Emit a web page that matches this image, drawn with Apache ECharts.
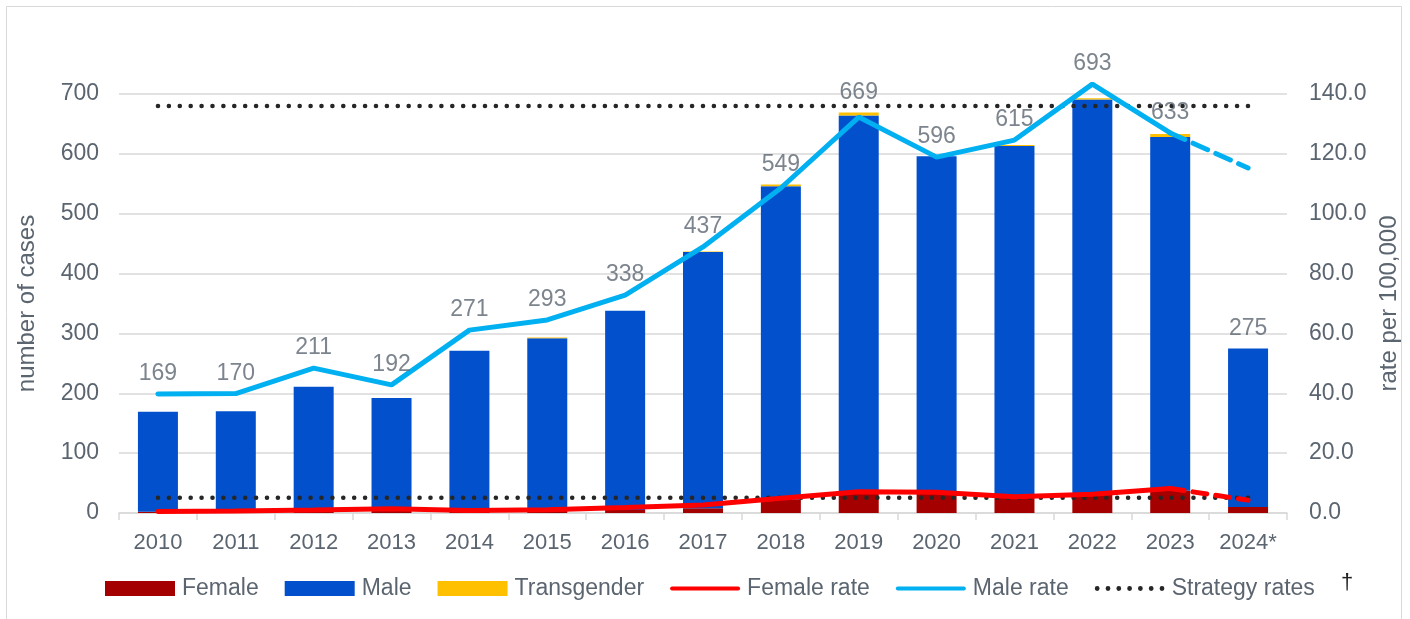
<!DOCTYPE html>
<html>
<head>
<meta charset="utf-8">
<script src="https://cdn.jsdelivr.net/npm/echarts@6/dist/echarts.min.js"></script>
<style>html,body{margin:0;padding:0;background:#fff}#c{width:1410px;height:619px}</style>
</head>
<body>
<div id="c"></div>
<script>
const years = ['2010','2011','2012','2013','2014','2015','2016','2017','2018','2019','2020','2021','2022','2023','2024*'];
const totals = [169,170,211,192,271,293,338,437,549,669,596,615,693,633,275];
const female = [2,2,3,5,2,4,5,8,23,34,33,27,30,37,10];
const male = [167,168,208,187,269,288,333,428,523,630,563,586,661,591,265];
const transgender = [0,0,0,0,0,1,0,1,3,5,0,2,2,5,0];
const femaleRate = [0.5,0.7,1.0,1.4,0.8,1.1,1.8,2.7,4.9,7.1,6.9,5.4,6.3,8.2,4.3];
const maleRate = [39.8,39.9,48.4,42.8,61.1,64.5,72.8,88.9,108.6,132.3,118.9,124.6,143.3,127.0,115.3];
const strategyUpper = 136.0;
const strategyLower = 5.1;
const leftTicks = [0,100,200,300,400,500,600,700];
const rightTicks = [0,20,40,60,80,100,120,140];

const last = years.length - 1;
const solid = a => a.map((v,i) => i < last ? v : null);
const dashed = a => a.map((v,i) => i >= last - 1 ? v : null);
const maleRateSolid = solid(maleRate);
const ratio = leftTicks[leftTicks.length-1] / rightTicks[rightTicks.length-1];
const labelAnchor = totals.map((t,i) => Math.max(t, maleRateSolid[i] == null ? 0 : maleRateSolid[i] * ratio));

const txt = '#5b6570';
const fs = 23;
const font = 'Liberation Sans, Arial, sans-serif';

// legend icons (bounds 70 x 15)
const lineIcon = 'path://M0,0 M70,15 M1,5.5 h68 a2,2 0 0,1 0,4 h-68 a2,2 0 0,1 0,-4 z';
let dots = 'path://M0,0 M70,15';
for (let k = 0; k < 7; k++) {
  const cx = 2.5 + k * 10.8;
  dots += ` M${cx-2.4},7.5 a2.4,2.4 0 1,0 4.8,0 a2.4,2.4 0 1,0 -4.8,0`;
}

const chart = echarts.init(document.getElementById('c'));
chart.setOption({
  animation: false,
  textStyle: {fontFamily: font},
  grid: {left: 119, right: 123, top: 94, bottom: 106, containLabel: false},
  legend: {
    left: 100, top: 572,
    itemWidth: 70, itemHeight: 15, itemGap: 26,
    textStyle: {color: txt, fontSize: fs, fontFamily: font, padding: [0, 0, 0, 2]},
    data: [
      {name: 'Female', icon: 'rect'},
      {name: 'Male', icon: 'rect'},
      {name: 'Transgender', icon: 'rect'},
      {name: 'Female rate', icon: lineIcon},
      {name: 'Male rate', icon: lineIcon},
      {name: 'Strategy rates', icon: dots}
    ]
  },
  graphic: [
    {type: 'rect', shape: {x: 6.5, y: 6.5, width: 1395, height: 640}, style: {fill: 'none', stroke: '#d9d9d9', lineWidth: 1}, silent: true, z: -10},
    {type: 'text', left: 1341, top: 572, style: {text: '†', fontSize: 22, fill: '#222', fontFamily: font}}
  ],
  xAxis: {
    type: 'category', data: years, boundaryGap: true,
    axisLine: {lineStyle: {color: '#d9d9d9', width: 1.5}},
    axisTick: {show: true, length: 7, lineStyle: {color: '#d9d9d9', width: 1.5}},
    axisLabel: {color: txt, fontSize: 22, margin: 19, interval: 0, fontFamily: font}
  },
  yAxis: [
    {
      type: 'value', min: 0, max: 700, interval: 100,
      name: 'number of cases', nameLocation: 'middle', nameGap: 80,
      nameTextStyle: {color: txt, fontSize: 24, fontFamily: font},
      axisLine: {show: false}, axisTick: {show: false},
      splitLine: {lineStyle: {color: '#d9d9d9', width: 1.5}},
      axisLabel: {color: txt, fontSize: fs, margin: 20, fontFamily: font}
    },
    {
      type: 'value', min: 0, max: 140, interval: 20,
      name: 'rate per 100,000', nameLocation: 'middle', nameGap: 80,
      nameTextStyle: {color: txt, fontSize: 24, fontFamily: font},
      axisLine: {show: false}, axisTick: {show: false}, splitLine: {show: false},
      axisLabel: {color: txt, fontSize: fs, margin: 22, fontFamily: font, formatter: v => v.toFixed(1)}
    }
  ],
  series: [
    {name: 'Female', type: 'bar', stack: 'c', data: female, barWidth: 40, itemStyle: {color: '#a50000'}},
    {name: 'Male', type: 'bar', stack: 'c', data: male, barWidth: 40, itemStyle: {color: '#0350cc'}},
    {name: 'Transgender', type: 'bar', stack: 'c', data: transgender, barWidth: 40, itemStyle: {color: '#ffc000'}},
    {name: 'Strategy rates', type: 'line', yAxisIndex: 1, data: years.map(() => strategyUpper), symbol: 'none', z: 4,
      lineStyle: {color: '#262626', width: 4.5, type: [0.1, 10.8], cap: 'round'}, itemStyle: {color: '#262626', borderWidth: 0}},
    {name: 'Strategy rates', type: 'line', yAxisIndex: 1, data: years.map(() => strategyLower), symbol: 'none', z: 4,
      lineStyle: {color: '#262626', width: 4.5, type: [0.1, 10.8], cap: 'round'}, itemStyle: {color: '#262626', borderWidth: 0}},
    {name: 'Female rate', type: 'line', yAxisIndex: 1, data: solid(femaleRate), symbol: 'none', clip: false, z: 5,
      lineStyle: {color: '#ff0000', width: 5, cap: 'round'}, itemStyle: {color: '#ff0000', borderWidth: 0}},
    {name: 'Female rate', type: 'line', yAxisIndex: 1, data: dashed(femaleRate), symbol: 'none', clip: false, z: 5,
      lineStyle: {color: '#ff0000', width: 5, type: [14, 9], cap: 'round'}, itemStyle: {color: '#ff0000', borderWidth: 0}},
    {name: 'Male rate', type: 'line', yAxisIndex: 1, data: maleRateSolid, symbol: 'none', clip: false, z: 5,
      lineStyle: {color: '#00b0f0', width: 5, cap: 'round'}, itemStyle: {color: '#00b0f0', borderWidth: 0}},
    {name: 'Male rate', type: 'line', yAxisIndex: 1, data: dashed(maleRate), symbol: 'none', clip: false, z: 5,
      lineStyle: {color: '#00b0f0', width: 5, type: [16, 9], cap: 'round'}, itemStyle: {color: '#00b0f0', borderWidth: 0}},
    {name: 'labels', type: 'scatter', data: labelAnchor, symbolSize: 1, clip: false, silent: true, z: 10,
      itemStyle: {color: 'rgba(0,0,0,0)'},
      label: {show: true, position: 'top', distance: 8, color: txt, fontSize: fs, fontFamily: font,
        formatter: p => String(totals[p.dataIndex])}}
  ]
});
</script>
</body>
</html>
